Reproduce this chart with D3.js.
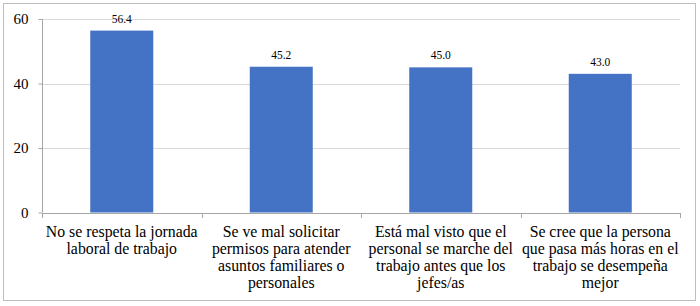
<!DOCTYPE html>
<html>
<head>
<meta charset="utf-8">
<script src="https://cdn.jsdelivr.net/npm/d3@7"></script>
<style>
  body { margin: 0; background: #fff; }
  svg { display: block; }
  svg text { font-family: "Liberation Serif", "Times New Roman", Times, serif !important; }
</style>
</head>
<body>
<svg id="chart" width="700" height="306"></svg>
<script>
/* ---------- data ---------- */
const categories = [
  "No se respeta la jornada\nlaboral de trabajo",
  "Se ve mal solicitar\npermisos para atender\nasuntos familiares o\npersonales",
  "Está mal visto que el\npersonal se marche del\ntrabajo antes que los\njefes/as",
  "Se cree que la persona\nque pasa más horas en el\ntrabajo se desempeña\nmejor"
];
const values = [56.4, 45.2, 45.0, 43.0];
const yTicks = [0, 20, 40, 60];

/* ---------- layout ---------- */
const svg = d3.select("#chart");
const plot = { left: 42, right: 680, top: 19, bottom: 212.5 };

svg.append("rect")
  .attr("x", 3.5).attr("y", 3.5).attr("width", 692).attr("height", 297)
  .attr("fill", "#fff").attr("stroke", "#bfbfbf");

const x = d3.scaleBand().domain(d3.range(categories.length))
  .range([plot.left, plot.right]).padding(0);
const y = d3.scaleLinear().domain([0, 60]).range([plot.bottom, plot.top]);
const barW = x.bandwidth() * 0.395;

/* ---------- gridlines & axes ---------- */
svg.append("g").selectAll("line").data(yTicks.filter(d => d > 0)).join("line")
  .attr("x1", plot.left).attr("x2", plot.right)
  .attr("y1", d => Math.round(y(d)) + 0.5).attr("y2", d => Math.round(y(d)) + 0.5)
  .attr("stroke", "#d9d9d9");

const yAxis = svg.append("g")
  .attr("transform", `translate(${plot.left + 0.5},0)`)
  .call(d3.axisLeft(y).tickValues(yTicks).tickSize(4).tickPadding(10).tickFormat(d3.format("d")));
yAxis.attr("font-family", null);
yAxis.select(".domain").attr("stroke", "#a6a6a6").attr("d", `M0,${plot.top}V${plot.bottom}`);
yAxis.selectAll(".tick line").attr("stroke", "#a6a6a6");
yAxis.selectAll(".tick text").attr("font-size", 15).attr("fill", "#000");

/* bottom axis line with category separators */
const xg = svg.append("g");
xg.append("line")
  .attr("x1", plot.left).attr("x2", plot.right)
  .attr("y1", Math.round(plot.bottom) + 0.5).attr("y2", Math.round(plot.bottom) + 0.5)
  .attr("stroke", "#a6a6a6");
xg.selectAll("line.sep").data(d3.range(categories.length + 1)).join("line")
  .attr("class", "sep")
  .attr("x1", i => Math.round(plot.left + i * x.step()) + 0.5)
  .attr("x2", i => Math.round(plot.left + i * x.step()) + 0.5)
  .attr("y1", Math.round(plot.bottom)).attr("y2", Math.round(plot.bottom) + 5)
  .attr("stroke", "#a6a6a6");

/* ---------- bars ---------- */
svg.append("g").selectAll("rect").data(values).join("rect")
  .attr("x", (d, i) => x(i) + (x.bandwidth() - barW) / 2)
  .attr("y", d => y(d))
  .attr("width", barW)
  .attr("height", d => y(0) - y(d))
  .attr("fill", "#4472c4");

/* value labels */
svg.append("g").selectAll("text").data(values).join("text")
  .attr("x", (d, i) => x(i) + x.bandwidth() / 2)
  .attr("y", d => y(d) - 8)
  .attr("text-anchor", "middle")
  .attr("font-size", 11.5)
  .attr("fill", "#000")
  .text(d => d.toFixed(1));

/* category labels */
const cat = svg.append("g").selectAll("text").data(categories).join("text")
  .attr("x", (d, i) => x(i) + x.bandwidth() / 2)
  .attr("y", 237)
  .attr("text-anchor", "middle")
  .attr("font-size", 15.8)
  .attr("fill", "#000");
cat.selectAll("tspan").data(d => d.split("\n")).join("tspan")
  .attr("x", function () { return d3.select(this.parentNode).attr("x"); })
  .attr("dy", (d, i) => i === 0 ? 0 : 17)
  .text(d => d);
</script>
</body>
</html>
